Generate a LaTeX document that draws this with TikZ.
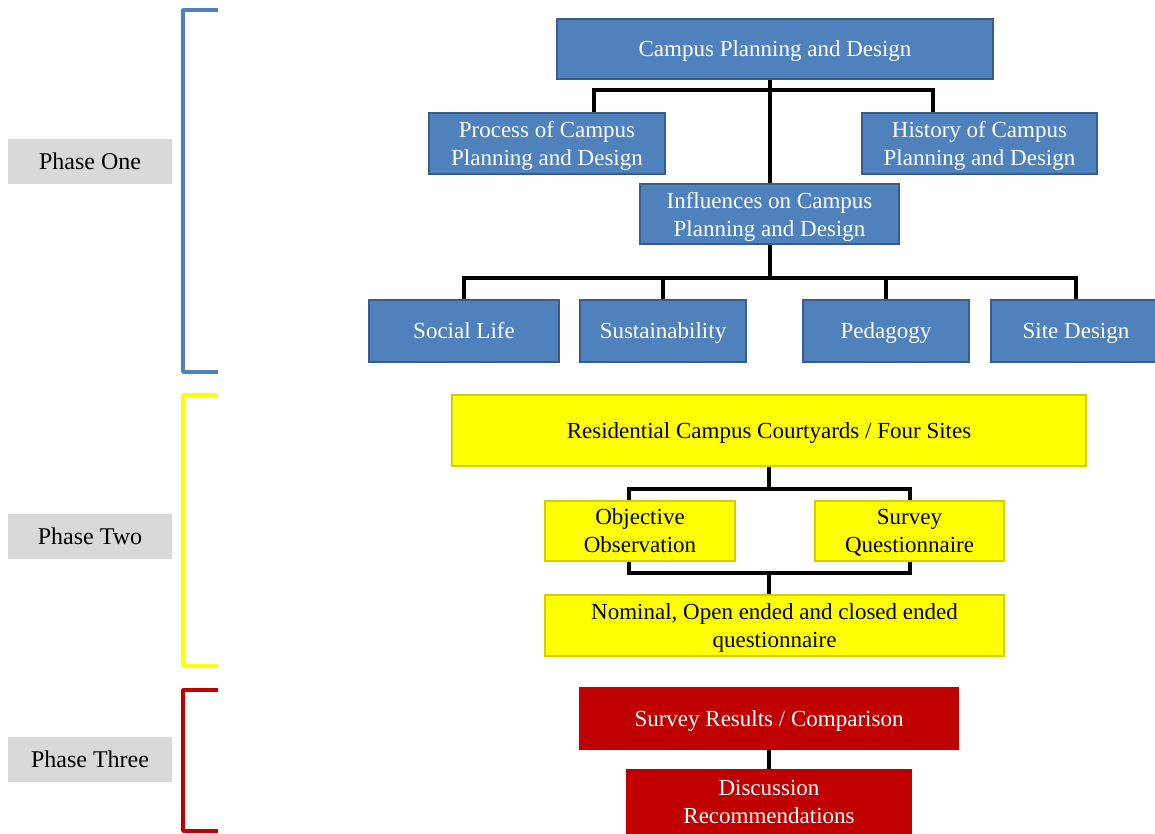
\documentclass[tikz,border=0pt]{standalone}
\usepackage{fontspec}
\setmainfont{Liberation Serif}
\usetikzlibrary{calc}
\definecolor{bluefill}{RGB}{79,129,189}
\definecolor{blueline}{RGB}{56,93,138}
\definecolor{yellowfill}{RGB}{255,255,0}
\definecolor{yellowline}{RGB}{214,204,0}
\definecolor{redfill}{RGB}{192,0,0}
\definecolor{phasegray}{RGB}{217,217,217}

\begin{document}
\begin{tikzpicture}[x=1pt,y=-1pt,
  box/.style={align=center,inner sep=0pt,line width=2pt,text depth=0pt,font=\fontsize{23}{28}\selectfont},
  bluebox/.style={box,draw=blueline,fill=bluefill,text=white},
  yellowbox/.style={box,draw=yellowline,fill=yellowfill,text=black},
  redbox/.style={box,draw=redfill,fill=redfill,text=white},
  oneline/.style={text height=15pt,text depth=0pt},
  phase/.style={fill=phasegray,minimum width=164,minimum height=45,inner sep=0pt,text height=16pt,text depth=0pt,font=\fontsize{24}{28}\selectfont},
  link/.style={line width=4pt},
  bracket/.style={line width=3.5pt,line join=round}]
\useasboundingbox (0,0) rectangle (1155,833);
% phases
\node[phase] (one) at (90,161.5) {Phase One};
\node[phase] (two) at (90,536) {Phase Two};
\node[phase] (three) at (90,759) {Phase Three};
\draw[bracket,bluefill] (218,10) -| (183,372) -- (218,372);
\draw[bracket,yellowfill] (218,395) -| (183,666) -- (218,666);
\draw[bracket,redfill] (218,690) -| (183,831) -- (218,831);
% phase one
\node[bluebox,oneline,minimum width=436,minimum height=60] (top) at (775,49) {Campus Planning and Design};
\node[bluebox,minimum width=236,minimum height=61] (proc) at (547,143.5) {Process of Campus\\Planning and Design};
\node[bluebox,minimum width=235,minimum height=61] (hist) at (979.5,143.5) {History of Campus\\Planning and Design};
\node[bluebox,minimum width=259,minimum height=60] (infl) at (769.5,214) {Influences on Campus\\Planning and Design};
\node[bluebox,oneline,minimum width=190,minimum height=62] (social) at (464,331) {Social Life};
\node[bluebox,oneline,minimum width=166,minimum height=62] (sust) at (663,331) {Sustainability};
\node[bluebox,oneline,minimum width=166,minimum height=62] (ped) at (886,331) {Pedagogy};
\node[bluebox,oneline,minimum width=170,minimum height=62] (site) at (1076,331) {Site Design};
\coordinate (b1) at (769.5,90);
\coordinate (b2) at (769.5,278);
\draw[link] (infl.north) -- (infl.north |- top.south);
\draw[link] ($(proc.north)+(47,0)$) |- (b1) -| ($(hist.north)+(-46.5,0)$);
\draw[link] (infl.south) -- (b2);
\draw[link] (social.north) |- (b2) -| (site.north);
\draw[link] (sust.north) -- (sust.north |- b2);
\draw[link] (ped.north) -- (ped.north |- b2);
% phase two
\node[yellowbox,oneline,minimum width=634,minimum height=71] (res) at (769,430.5) {Residential Campus Courtyards / Four Sites};
\node[yellowbox,minimum width=190,minimum height=60] (obj) at (640,531) {Objective\\Observation};
\node[yellowbox,minimum width=189,minimum height=60] (surv) at (909.5,531) {Survey\\Questionnaire};
\node[yellowbox,minimum width=459,minimum height=61] (nom) at (774.5,625.5) {Nominal, Open ended and closed ended\\questionnaire};
\coordinate (b3) at (769,489);
\coordinate (b4) at (769,573);
\draw[link] (res.south) -- (b3);
\draw[link] ($(obj.north)+(-11,0)$) |- (b3) -| (surv.north);
\draw[link] ($(obj.south)+(-11,0)$) |- (b4) -| (surv.south);
\draw[link] (b4) -- (nom.north -| b4);
% phase three
\node[redbox,oneline,minimum width=378,minimum height=61] (results) at (769,718.5) {Survey Results / Comparison};
\node[redbox,minimum width=284,minimum height=64] (disc) at (769,802) {Discussion\\Recommendations};
\draw[link] (results.south) -- (disc.north);
\end{tikzpicture}
\end{document}
